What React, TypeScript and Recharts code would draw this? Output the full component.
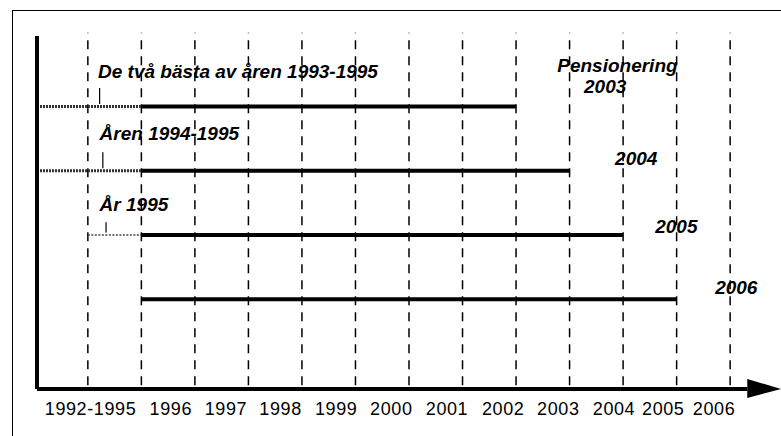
import { LineChart, XAxis, YAxis, ReferenceLine, ReferenceDot } from "recharts";

// x units: one per year column, 0 = end of 1992-1995 block
const yearLabels = ["1992-1995", "1996", "1997", "1998", "1999", "2000", "2001", "2002", "2003", "2004", "2005", "2006"];
const yearTickAt = [0.05, 1.55, 2.58, 3.6, 4.64, 5.67, 6.71, 7.76, 8.79, 9.83, 10.75, 11.7];
const gridYears = [0, 1, 2, 3, 4, 5, 6, 7, 8, 9, 10, 11, 12];

// the four retirement rows
const rowLevels = [4.4, 3.4, 2.4, 1.4];
const dottedStart = [-0.95, -0.95, 0, null];
const solidStart = [1, 1, 1, 1];
const solidEnd = [8, 9, 10, 11];
const pointerX = [0.22, 0.28, 0.34];
const pointerTop = [4.69, 3.69, 2.6];

const notes = ["De två bästa av åren 1993-1995", "Åren 1994-1995", "År 1995", "Pensionering", "2003", "2004", "2005", "2006"];
const noteX = [0.19, 0.22, 0.22, 8.77, 9.27, 9.85, 10.6, 11.72];
const noteY = [4.84, 3.88, 2.77, 4.94, 4.61, 3.49, 2.43, 1.48];

const X_MIN = -0.95;
const X_MAX = 12.95;
const ARROW_BASE = 12.32;

const font = "Arial, 'Liberation Sans', sans-serif";

function YearTick(props: any) {
  const { x, y, index } = props;
  return (
    <text x={x} y={y} dy={18} textAnchor="middle" fontFamily={font} fontSize={18} fill="#000" letterSpacing={0.6}>
      {yearLabels[index]}
    </text>
  );
}

function Note(props: any) {
  const { cx, cy, text } = props;
  return (
    <text x={cx} y={cy} fontFamily={font} fontSize={19} fontWeight="bold" fontStyle="italic" fill="#000">
      {text}
    </text>
  );
}

function Arrow(props: any) {
  const { cx, cy } = props;
  return <polygon points={`${cx},${cy - 10} ${cx + 34},${cy} ${cx},${cy + 9}`} fill="#000" />;
}

export default function App() {
  return (
    <div style={{ position: "absolute", left: 0, top: 0, width: 781, height: 436, background: "#fff", overflow: "hidden" }}>
      <div
        style={{
          position: "absolute",
          left: 12,
          top: 10,
          width: 800,
          height: 440,
          borderLeft: "1.5px solid #000",
          borderTop: "1.5px solid #000",
        }}
      />
      <LineChart
        width={781}
        height={436}
        margin={{ top: 36, right: 0, bottom: 17, left: 37 }}
        style={{ position: "absolute", left: 0, top: 0 }}
      >
        <XAxis
          type="number"
          dataKey="x"
          height={30}
          domain={[X_MIN, X_MAX]}
          ticks={yearTickAt}
          tick={<YearTick />}
          axisLine={false}
          tickLine={false}
          interval={0}
          allowDataOverflow
        />
        <YAxis type="number" domain={[0, 5.5]} hide allowDataOverflow />

        {gridYears.map((g) => (
          <ReferenceLine
            key={"g" + g}
            segment={[{ x: g, y: 0.06 }, { x: g, y: 5.55 }]}
            stroke="#000"
            strokeWidth={1.5}
            strokeDasharray="9 7"
            ifOverflow="visible"
          />
        ))}

        {rowLevels.map((lv, i) =>
          dottedStart[i] === null ? null : (
            <ReferenceLine
              key={"d" + i}
              segment={[{ x: dottedStart[i] as number, y: lv }, { x: solidStart[i], y: lv }]}
              stroke={i === 2 ? "#444" : "#333"}
              strokeWidth={i === 2 ? 1.5 : 3}
              strokeDasharray={i === 2 ? "2 1.5" : "2 1"}
              ifOverflow="visible"
            />
          )
        )}

        {rowLevels.map((lv, i) => (
          <ReferenceLine
            key={"s" + i}
            segment={[{ x: solidStart[i], y: lv }, { x: solidEnd[i], y: lv }]}
            stroke="#000"
            strokeWidth={4}
            ifOverflow="visible"
          />
        ))}

        {pointerX.map((px, i) => (
          <ReferenceLine
            key={"p" + i}
            segment={[{ x: px, y: pointerTop[i] }, { x: px, y: rowLevels[i] + 0.04 }]}
            stroke="#000"
            strokeWidth={1.2}
            ifOverflow="visible"
          />
        ))}

        <ReferenceLine
          segment={[{ x: X_MIN, y: 0 }, { x: X_MIN, y: 5.5 }]}
          stroke="#000"
          strokeWidth={4}
          ifOverflow="visible"
        />
        <ReferenceLine
          segment={[{ x: X_MIN, y: 0 }, { x: ARROW_BASE, y: 0 }]}
          stroke="#000"
          strokeWidth={4}
          ifOverflow="visible"
        />
        <ReferenceDot x={ARROW_BASE} y={0} ifOverflow="visible" shape={<Arrow />} />

        {notes.map((t, i) => (
          <ReferenceDot key={"n" + i} x={noteX[i]} y={noteY[i]} ifOverflow="visible" shape={<Note text={t} />} />
        ))}
      </LineChart>
    </div>
  );
}
